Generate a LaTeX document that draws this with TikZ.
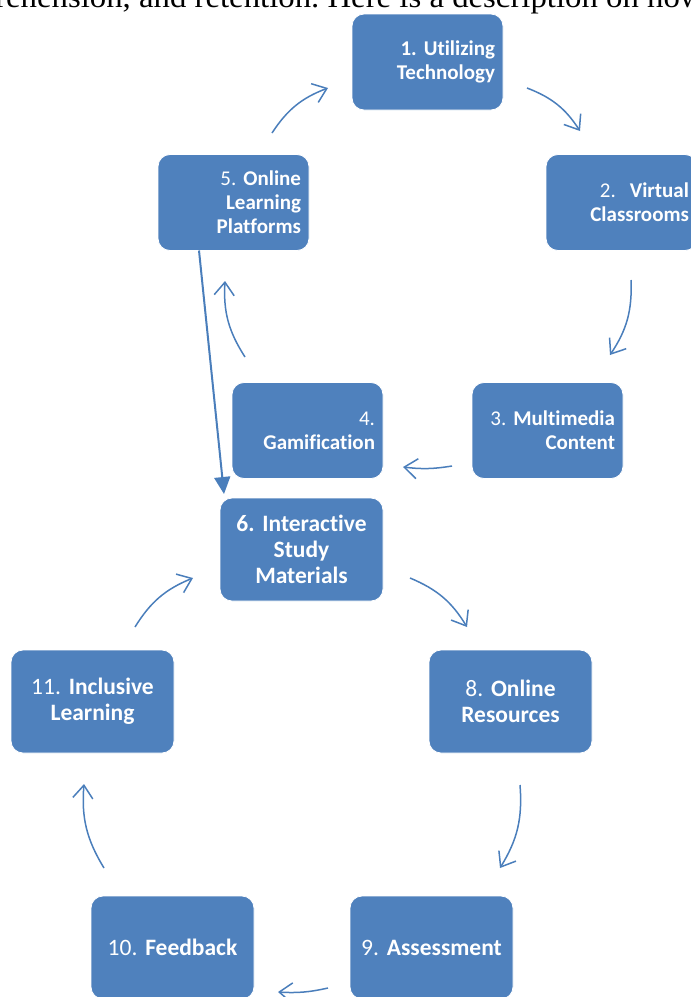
\documentclass[tikz,border=0pt]{standalone}
\usepackage{fontspec}
\setmainfont{Carlito}[Ligatures=NoCommon]
\newfontfamily\bodyfont{Liberation Serif}
\frenchspacing
\usepackage{xcolor}
\definecolor{artBlue}{HTML}{4F81BD}
\definecolor{artLine}{HTML}{4A7EBB}
\usepackage{tikz}
\usetikzlibrary{arrows.meta}

\begin{document}
\begin{tikzpicture}[x=1pt, y=-1pt,
    smallbox/.style={fill=artBlue, draw=white, line width=0.8pt, rounded corners=12pt,
      text=white, minimum height=96pt, text width=135pt, inner xsep=8pt, inner ysep=0pt,
      align=right, font=\fontsize{21}{24}\selectfont},
    bigbox/.style={smallbox, minimum height=103pt, text width=147pt, align=center,
      font=\fontsize{23.5}{26}\selectfont},
    cyc/.style={artLine, line width=1.5pt, -{Straight Barb[length=13pt, width=20pt]}, bend left=#1},
    cyc/.default=18]
  \useasboundingbox (0,0) rectangle (691,997);
  \clip (0,0) rectangle (691,997);
  % cut text line above
  \node[anchor=base west, inner sep=0pt, font=\bodyfont\fontsize{30.5}{34}\selectfont] (intro) at (-5,7)
    {\scalebox{1.075}[1]{rehension, and retention. Here is a description on how}};
  % upper cycle
  \node[smallbox] (n1) at (427.5,62)  {\textbf{1. Utilizing}\\ \textbf{Technology}};
  \node[smallbox] (n2) at (621.5,202.5) {2.\ \ \textbf{Virtual}\\ \textbf{Classrooms}};
  \node[smallbox] (n3) at (547.5,430.5) {3. \textbf{Multimedia}\\ \textbf{Content}};
  \node[smallbox] (n4) at (307.5,430.5) {4.\\ \textbf{Gamification}};
  \node[smallbox] (n5) at (233.5,202.5) {5. \textbf{Online}\\ \textbf{Learning}\\ \textbf{Platforms}};
  % lower cycle
  \node[bigbox] (n6)  at (301.5,549.5) {\textbf{6. Interactive}\\ \textbf{Study}\\ \textbf{Materials}};
  \node[bigbox] (n8)  at (510.5,701.5) {8. \textbf{Online}\\ \textbf{Resources}};
  \node[bigbox] (n9)  at (431.5,947.5) {9. \textbf{Assessment}};
  \node[bigbox] (n10) at (172.5,947.5) {10. \textbf{Feedback}};
  \node[bigbox] (n11) at (92.5,701.5)  {11. \textbf{Inclusive}\\ \textbf{Learning}};
  % arrow ends
  \coordinate (a51s) at (272,133);  \coordinate (a51e) at (328,88);
  \coordinate (a12s) at (527,88);   \coordinate (a12e) at (580,131);
  \coordinate (a23s) at (631,280);  \coordinate (a23e) at (610,355);
  \coordinate (a34s) at (452,466);  \coordinate (a34e) at (403,467);
  \coordinate (a45s) at (245,357);  \coordinate (a45e) at (225,281);
  \coordinate (a56s) at (199,250.5);\coordinate (a56e) at (224,494);
  \coordinate (a68s) at (410,578);  \coordinate (a68e) at (467,627);
  \coordinate (a89s) at (520,785);  \coordinate (a89e) at (500,868);
  \coordinate (a910s) at (328,988); \coordinate (a910e) at (278,992);
  \coordinate (a1011s) at (104,868);\coordinate (a1011e) at (84,784);
  \coordinate (a116s) at (135,627); \coordinate (a116e) at (193,578);
  % cycle arrows
  \draw[cyc] (a51s) to (a51e);
  \draw[cyc] (a12s) to (a12e);
  \draw[cyc] (a23s) to (a23e);
  \draw[cyc=8] (a34s) to (a34e);
  \draw[cyc] (a45s) to (a45e);
  \draw[cyc] (a68s) to (a68e);
  \draw[cyc] (a89s) to (a89e);
  \draw[cyc=8] (a910s) to (a910e);
  \draw[cyc] (a1011s) to (a1011e);
  \draw[cyc] (a116s) to (a116e);
  % straight link 5 to 6
  \draw[artLine, line width=2pt, -{Triangle[length=17pt, width=16pt]}] (a56s) -- (a56e);
\end{tikzpicture}
\end{document}
